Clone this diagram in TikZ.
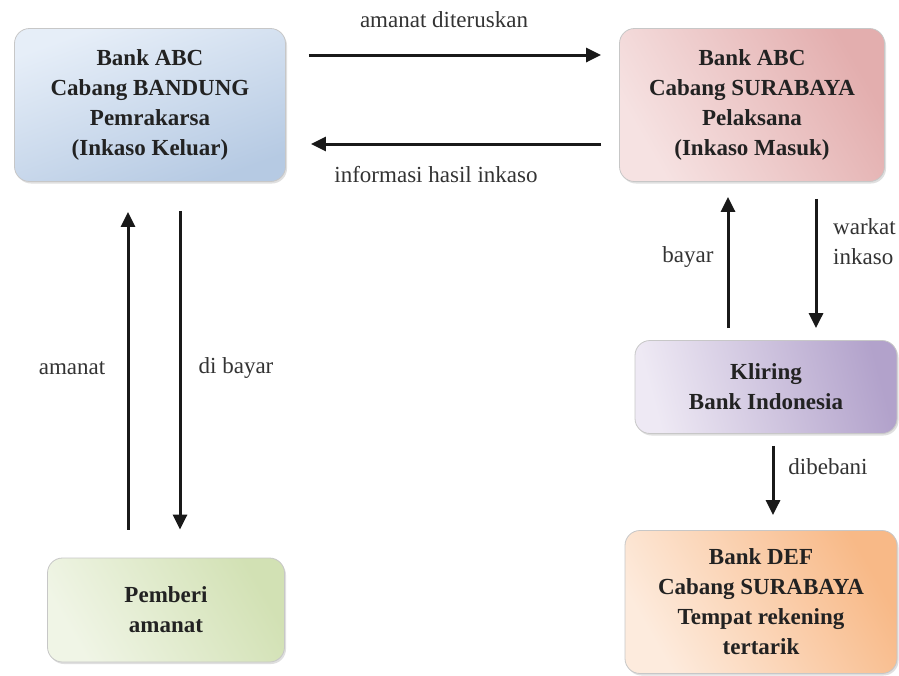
\documentclass[tikz,border=0pt]{standalone}
\usepackage{fontspec}
\setmainfont{Liberation Serif}
\usetikzlibrary{arrows.meta,shadows}
\definecolor{bluA}{HTML}{E6EEF8}
\definecolor{bluB}{HTML}{B6CAE3}
\definecolor{pinA}{HTML}{F6E2E2}
\definecolor{pinB}{HTML}{E3AEAE}
\definecolor{purA}{HTML}{EEE9F4}
\definecolor{purB}{HTML}{B2A2CB}
\definecolor{greA}{HTML}{F0F5E6}
\definecolor{greB}{HTML}{D2E1B4}
\definecolor{oraA}{HTML}{FDEBDD}
\definecolor{oraB}{HTML}{F8B987}
\definecolor{txt}{HTML}{222222}
\definecolor{lbl}{HTML}{333333}
\tikzset{
  box/.style={rounded corners=15pt, draw=black!22, line width=0.8pt,
    align=center, inner sep=0pt, text=txt,
    font=\fontsize{23}{30}\selectfont\bfseries,
    drop shadow={shadow xshift=1.5pt, shadow yshift=-2pt, opacity=0.25}},
  lab/.style={font=\fontsize{23}{30}\selectfont, text=lbl, inner sep=0pt},
  arr/.style={line width=3pt, draw=black!90,
    -{Triangle[length=15pt,width=14pt]}},
}
\begin{document}
\begin{tikzpicture}[x=1pt,y=-1pt]
\useasboundingbox (0,0) rectangle (899,675);
\fill[white] (0,0) rectangle (899,675);

\node[box, minimum width=271pt, minimum height=153pt,
  top color=bluA, bottom color=bluB, shading angle=20]
  (bdg) at (150,105) {Bank ABC\\Cabang BANDUNG\\Pemrakarsa\\(Inkaso Keluar)};
\node[box, minimum width=265pt, minimum height=153pt,
  left color=pinA, right color=pinB, shading angle=120]
  (sby) at (752,105) {Bank ABC\\Cabang SURABAYA\\Pelaksana\\(Inkaso Masuk)};
\node[box, minimum width=262pt, minimum height=93pt,
  left color=purA, right color=purB, shading angle=105]
  (kli) at (766,387) {Kliring\\Bank Indonesia};
\node[box, minimum width=272pt, minimum height=143pt,
  left color=oraA, right color=oraB, shading angle=120]
  (def) at (761,602) {Bank DEF\\Cabang SURABAYA\\Tempat rekening\\tertarik};
\node[box, minimum width=237pt, minimum height=104pt,
  left color=greA, right color=greB, shading angle=120]
  (pem) at (166,610) {Pemberi\\amanat};

% named coordinates for arrow rails
\coordinate (yT) at (0,55);
\coordinate (yB) at (0,144);
\coordinate (xL1) at (128,0);
\coordinate (xL2) at (180,0);
\coordinate (xR1) at (728,0);
\coordinate (xR2) at (816,0);
\coordinate (xR3) at (773,0);

\draw[arr, shorten <=23pt, shorten >=18pt] (bdg.east |- yT) -- (sby.west |- yT);
\draw[arr, shorten <=18pt, shorten >=25pt] (sby.west |- yB) -- (bdg.east |- yB);
\draw[arr, shorten <=28pt, shorten >=30pt] (xL1 |- pem.north) -- (xL1 |- bdg.south);
\draw[arr, shorten <=29pt, shorten >=28pt] (xL2 |- bdg.south) -- (xL2 |- pem.north);
\draw[arr, shorten <=12pt, shorten >=15pt] (xR1 |- kli.north) -- (xR1 |- sby.south);
\draw[arr, shorten <=17pt, shorten >=12pt] (xR2 |- sby.south) -- (xR2 |- kli.north);
\draw[arr, shorten <=12pt, shorten >=15pt] (xR3 |- kli.south) -- (xR3 |- def.north);

\node[lab] (l1) at (444,20) {amanat diteruskan};
\node[lab] (l2) at (436,175) {informasi hasil inkaso};
\node[lab] (l3) at (72,368) {amanat};
\node[lab] (l4) at (236,368) {di bayar};
\node[lab] (l5) at (688,257) {bayar};
\node[lab, anchor=west, align=left] (l6) at (833,242) {warkat\\inkaso};
\node[lab] (l7) at (828,467) {dibebani};
\end{tikzpicture}
\end{document}
